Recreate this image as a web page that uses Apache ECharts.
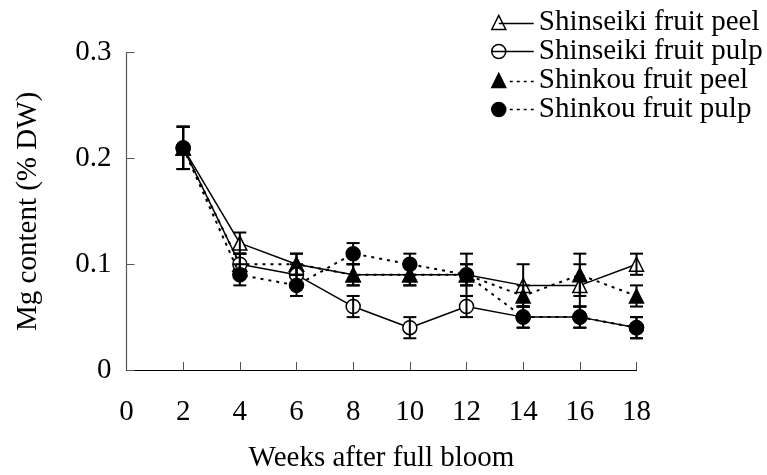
<!DOCTYPE html>
<html>
<head>
<meta charset="utf-8">
<script src="https://cdn.jsdelivr.net/npm/echarts@6/dist/echarts.min.js"></script>
<style>
  html, body { margin: 0; padding: 0; background: #fff; }
  #chart { width: 767px; height: 475px; }
</style>
</head>
<body>
<div id="chart"></div>
<script>
// Sampling dates (weeks after full bloom)
const weeks = [2, 4, 6, 8, 10, 12, 14, 16, 18];
const xTicks = [0, 2, 4, 6, 8, 10, 12, 14, 16, 18];
const yTicks = [0, 0.1, 0.2, 0.3];

// Mg content (% DW) and standard errors
const shinseikiPeel    = [0.21, 0.12, 0.10, 0.09, 0.09, 0.09, 0.08, 0.08, 0.10];
const shinseikiPeelErr = [0.02, 0.01, 0.01, 0.01, 0.01, 0.01, 0.02, 0.02, 0.01];
const shinseikiPulp    = [0.21, 0.10, 0.09, 0.06, 0.04, 0.06, 0.05, 0.05, 0.04];
const shinseikiPulpErr = [0.02, 0.01, 0.01, 0.01, 0.01, 0.01, 0.01, 0.01, 0.01];
const shinkouPeel      = [0.21, 0.10, 0.10, 0.09, 0.09, 0.09, 0.07, 0.09, 0.07];
const shinkouPeelErr   = [0.02, 0.01, 0.01, 0.01, 0.01, 0.01, 0.01, 0.02, 0.01];
const shinkouPulp      = [0.21, 0.09, 0.08, 0.11, 0.10, 0.09, 0.05, 0.05, 0.04];
const shinkouPulpErr   = [0.02, 0.01, 0.01, 0.01, 0.01, 0.02, 0.01, 0.01, 0.01];

const seriesNames = ['Shinseiki fruit peel', 'Shinseiki fruit pulp', 'Shinkou fruit peel', 'Shinkou fruit pulp'];

const FONT = '"Liberation Serif", "DejaVu Serif", serif';
const FONT_SIZE = 29;

// Legend icons: marker at the left end of a short line (solid or dotted)
const DOTS = 'M18,7L21,7M25,7L28,7M32,7L35,7M39,7L42,7';
const legendIcons = [
  'path://M0,14L7,0L14,14ZM7,8L42,8',
  'path://M0,7A7,7,0,1,1,14,7A7,7,0,1,1,0,7ZM0,7L42,7',
  'path://M0,14L7,0L14,14Z' + DOTS.replace(/,7/g, ',8'),
  'path://M0,7A7,7,0,1,1,14,7A7,7,0,1,1,0,7Z' + DOTS
];

function lineSeries(name, values, symbol, filled, dotted, z) {
  return {
    name: name,
    type: 'line',
    z: z,
    data: weeks.map((w, i) => [w, values[i]]),
    symbol: symbol,
    symbolSize: 14,
    showAllSymbol: true,
    clip: false,
    lineStyle: { color: '#000', width: dotted ? 2 : 1.5, type: dotted ? [3, 5] : 'solid' },
    itemStyle: { color: filled ? '#000' : '#fff', borderColor: '#000', borderWidth: 1.5, opacity: 1 },
    emphasis: { disabled: true }
  };
}

function errorSeries(values, errs) {
  return {
    type: 'custom',
    z: 10,
    silent: true,
    clip: false,
    data: weeks.map((w, i) => [w, values[i] - errs[i], values[i] + errs[i]]),
    encode: { x: 0, y: [1, 2] },
    renderItem: function (params, api) {
      const lo = api.coord([api.value(0), api.value(1)]);
      const hi = api.coord([api.value(0), api.value(2)]);
      const cap = 6.5;
      const style = { stroke: '#000', lineWidth: 2 };
      return {
        type: 'group',
        children: [
          { type: 'line', shape: { x1: lo[0], y1: lo[1], x2: hi[0], y2: hi[1] }, style: style },
          { type: 'line', shape: { x1: hi[0] - cap, y1: hi[1], x2: hi[0] + cap, y2: hi[1] }, style: style },
          { type: 'line', shape: { x1: lo[0] - cap, y1: lo[1], x2: lo[0] + cap, y2: lo[1] }, style: style }
        ]
      };
    }
  };
}

const chart = echarts.init(document.getElementById('chart'), null, { renderer: 'canvas' });

chart.setOption({
  animation: false,
  backgroundColor: '#fff',
  grid: { left: 126.5, right: 130.5, top: 52.7, bottom: 105, containLabel: false, outerBoundsMode: 'none' },
  legend: {
    orient: 'vertical',
    left: 486,
    top: 3,
    itemWidth: 42,
    itemHeight: 14,
    itemGap: 0,
    selectedMode: false,
    textStyle: { fontFamily: FONT, fontSize: FONT_SIZE, color: '#000', lineHeight: 27.5 },
    data: seriesNames.map((n, i) => ({
      name: n,
      icon: legendIcons[i],
      itemStyle: { color: i < 2 ? '#fff' : '#000', borderColor: '#000', borderWidth: 1.5 }
    }))
  },
  xAxis: {
    type: 'value',
    min: xTicks[0],
    max: xTicks[xTicks.length - 1],
    interval: 2,
    name: 'Weeks after full bloom',
    nameLocation: 'middle',
    nameGap: 74,
    nameTextStyle: { fontFamily: FONT, fontSize: FONT_SIZE, color: '#000' },
    axisLine: { lineStyle: { color: '#000', width: 1.2 } },
    axisTick: { inside: true, length: 8, lineStyle: { color: '#555', width: 1 } },
    axisLabel: { fontFamily: FONT, fontSize: FONT_SIZE, color: '#000', margin: 28 },
    splitLine: { show: false }
  },
  yAxis: {
    type: 'value',
    min: yTicks[0],
    max: yTicks[yTicks.length - 1],
    interval: 0.1,
    name: 'Mg content (% DW)',
    nameLocation: 'middle',
    nameGap: 84,
    nameTextStyle: { fontFamily: FONT, fontSize: FONT_SIZE, color: '#000' },
    axisLine: { show: true, lineStyle: { color: '#555', width: 1.2 } },
    axisTick: { show: true, inside: true, length: 8, lineStyle: { color: '#555', width: 1 } },
    axisLabel: { fontFamily: FONT, fontSize: FONT_SIZE, color: '#000', margin: 15,
      formatter: v => (v === 0 ? '0' : v.toFixed(1)) },
    splitLine: { show: false }
  },
  series: [
    lineSeries(seriesNames[0], shinseikiPeel, 'triangle', false, false, 2),
    lineSeries(seriesNames[1], shinseikiPulp, 'circle', false, false, 4),
    lineSeries(seriesNames[2], shinkouPeel, 'triangle', true, true, 3),
    lineSeries(seriesNames[3], shinkouPulp, 'circle', true, true, 5),
    errorSeries(shinseikiPeel, shinseikiPeelErr),
    errorSeries(shinseikiPulp, shinseikiPulpErr),
    errorSeries(shinkouPeel, shinkouPeelErr),
    errorSeries(shinkouPulp, shinkouPulpErr)
  ]
});
</script>
</body>
</html>
